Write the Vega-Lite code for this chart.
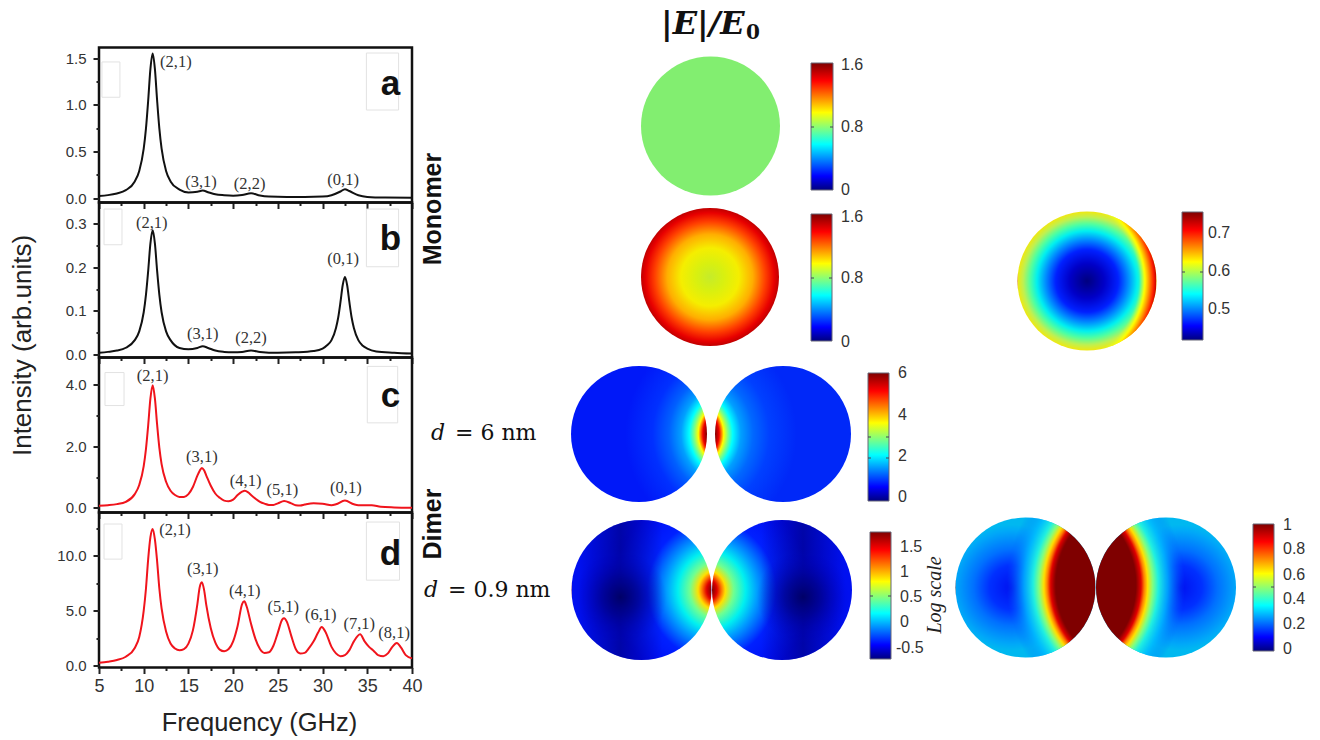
{
  "$schema": "https://vega.github.io/schema/vega-lite/v6.json",
  "background": "white",
  "padding": {"left": 8, "top": 7.5, "right": 0, "bottom": 5},
  "bounds": "flush",
  "spacing": 313,
  "config": {
    "axis": {"grid": false, "domain": false, "tickColor": "#222", "tickWidth": 2, "labelColor": "#333", "labelFont": "Liberation Sans", "labelFontSize": 15, "titleFont": "Liberation Sans", "titleFontWeight": "normal", "titleColor": "#222", "labelOverlap": false, "labelFlush": false},
    "text": {"font": "Liberation Sans"}
  },
  "hconcat": [
    {
      "vconcat": [
        {
          "width": 313, "height": 155,
          "view": {"stroke": "#111", "strokeWidth": 2.5},
          "encoding": {
            "x": {"field": "f", "type": "quantitative", "scale": {"domain": [5, 40], "nice": false},
              "axis": {"values": [5, 7.5, 10, 12.5, 15, 17.5, 20, 22.5, 25, 27.5, 30, 32.5, 35, 37.5, 40], "labels": false, "title": null, "tickSize": {"condition": {"test": "datum.value % 5 == 0", "value": 6}, "value": 3}}},
            "y": {"field": "i", "type": "quantitative", "scale": {"domain": [-0.048, 1.613], "nice": false},
              "axis": {"values": [0, 0.25, 0.5, 0.75, 1, 1.25, 1.5], "title": null, "labelPadding": 7, "labelExpr": "datum.value * 2 % 1 == 0 ? format(datum.value, '.1f') : ''", "tickSize": {"condition": {"test": "datum.value * 2 % 1 == 0", "value": 6}, "value": 3}}}
          },
          "layer": [
            {
              "data": {"values": [{"f": 5.33, "f2": 7.34, "i": 1.458, "i2": 1.08}, {"f": 34.9, "f2": 38.5, "i": 1.554, "i2": 0.943}]},
              "mark": {"type": "rect", "fill": null, "stroke": "#e2e2e2", "strokeWidth": 1},
              "encoding": {"x2": {"field": "f2"}, "y2": {"field": "i2"}}
            },
            {
              "data": {"values": [{"f":5,"i":0.022},{"f":6,"i":0.031},{"f":7,"i":0.049},{"f":8,"i":0.084},{"f":9,"i":0.178},{"f":9.5,"i":0.29},{"f":10,"i":0.529},{"f":10.25,"i":0.743},{"f":10.5,"i":1.045},{"f":10.75,"i":1.384},{"f":11,"i":1.55},{"f":11.25,"i":1.384},{"f":11.5,"i":1.045},{"f":11.75,"i":0.743},{"f":12,"i":0.529},{"f":12.5,"i":0.29},{"f":13,"i":0.178},{"f":14,"i":0.09},{"f":15,"i":0.06},{"f":16,"i":0.068},{"f":16.6,"i":0.08},{"f":17.2,"i":0.062},{"f":18,"i":0.04},{"f":19,"i":0.03},{"f":20,"i":0.025},{"f":21,"i":0.032},{"f":22,"i":0.05},{"f":23,"i":0.026},{"f":24,"i":0.015},{"f":26,"i":0.01},{"f":28,"i":0.01},{"f":30,"i":0.015},{"f":31,"i":0.03},{"f":32,"i":0.07},{"f":32.5,"i":0.095},{"f":33,"i":0.075},{"f":34,"i":0.03},{"f":35,"i":0.012},{"f":37,"i":0.005},{"f":40,"i":0.003}]},
              "mark": {"type": "line", "color": "#111", "strokeWidth": 2, "interpolate": "monotone"}
            },
            {
              "data": {"values": [{"f":13.6,"i":1.457,"t":"(2,1)"},{"f":16.4,"i":0.171,"t":"(3,1)"},{"f":21.85,"i":0.15,"t":"(2,2)"},{"f":32.3,"i":0.193,"t":"(0,1)"}]},
              "mark": {"type": "text", "font": "Liberation Serif", "fontSize": 16.5, "color": "#333"},
              "encoding": {"text": {"field": "t"}}
            },
            {
              "data": {"values": [{"f":37.6,"i":1.104,"t":"a"}]},
              "mark": {"type": "text", "fontSize": 35, "fontWeight": "bold", "baseline": "alphabetic", "color": "#111"},
              "encoding": {"text": {"field": "t"}}
            }
          ]
        },
        {
          "width": 313, "height": 155,
          "view": {"stroke": "#111", "strokeWidth": 2.5},
          "encoding": {
            "x": {"field": "f", "type": "quantitative", "scale": {"domain": [5, 40], "nice": false},
              "axis": {"values": [5, 7.5, 10, 12.5, 15, 17.5, 20, 22.5, 25, 27.5, 30, 32.5, 35, 37.5, 40], "labels": false, "title": null, "tickSize": {"condition": {"test": "datum.value % 5 == 0", "value": 6}, "value": 3}}},
            "y": {"field": "i", "type": "quantitative", "scale": {"domain": [-0.0069, 0.349], "nice": false},
              "axis": {"values": [0, 0.05, 0.1, 0.15, 0.2, 0.25, 0.3], "title": "Intensity (arb.units)", "titleFontSize": 26, "titleX": -63.5, "titleY": 142.5, "labelPadding": 7, "labelExpr": "round(datum.value * 100) % 10 == 0 ? format(datum.value, '.1f') : ''", "tickSize": {"condition": {"test": "round(datum.value * 100) % 10 == 0", "value": 6}, "value": 3}}}
          },
          "layer": [
            {
              "data": {"values": [{"f": 5.56, "f2": 7.57, "i": 0.334, "i2": 0.252}, {"f": 34.9, "f2": 38.5, "i": 0.334, "i2": 0.2015}]},
              "mark": {"type": "rect", "fill": null, "stroke": "#e2e2e2", "strokeWidth": 1},
              "encoding": {"x2": {"field": "f2"}, "y2": {"field": "i2"}}
            },
            {
              "data": {"values": [{"f":5,"i":0.004},{"f":6,"i":0.006},{"f":7,"i":0.009},{"f":8,"i":0.0155},{"f":9,"i":0.033},{"f":9.5,"i":0.053},{"f":10,"i":0.097},{"f":10.25,"i":0.137},{"f":10.5,"i":0.192},{"f":10.75,"i":0.255},{"f":11,"i":0.285},{"f":11.25,"i":0.255},{"f":11.5,"i":0.192},{"f":11.75,"i":0.137},{"f":12,"i":0.097},{"f":12.5,"i":0.053},{"f":13,"i":0.033},{"f":14,"i":0.015},{"f":15,"i":0.012},{"f":16,"i":0.015},{"f":16.6,"i":0.019},{"f":17.2,"i":0.015},{"f":18,"i":0.009},{"f":19,"i":0.006},{"f":20,"i":0.005},{"f":21,"i":0.006},{"f":22,"i":0.009},{"f":23,"i":0.006},{"f":25,"i":0.004},{"f":27,"i":0.005},{"f":29,"i":0.008},{"f":30,"i":0.0135},{"f":30.5,"i":0.021},{"f":31,"i":0.033},{"f":31.5,"i":0.061},{"f":31.75,"i":0.085},{"f":32,"i":0.12},{"f":32.25,"i":0.159},{"f":32.5,"i":0.178},{"f":32.75,"i":0.159},{"f":33,"i":0.12},{"f":33.25,"i":0.085},{"f":33.5,"i":0.061},{"f":34,"i":0.033},{"f":34.5,"i":0.02},{"f":35,"i":0.0135},{"f":36,"i":0.007},{"f":38,"i":0.004},{"f":40,"i":0.002}]},
              "mark": {"type": "line", "color": "#111", "strokeWidth": 2, "interpolate": "monotone"}
            },
            {
              "data": {"values": [{"f":10.9,"i":0.302,"t":"(2,1)"},{"f":16.6,"i":0.048,"t":"(3,1)"},{"f":22,"i":0.039,"t":"(2,2)"},{"f":32.3,"i":0.22,"t":"(0,1)"}]},
              "mark": {"type": "text", "font": "Liberation Serif", "fontSize": 16.5, "color": "#333"},
              "encoding": {"text": {"field": "t"}}
            },
            {
              "data": {"values": [{"f":37.6,"i":0.24,"t":"b"}]},
              "mark": {"type": "text", "fontSize": 35, "fontWeight": "bold", "baseline": "alphabetic", "color": "#111"},
              "encoding": {"text": {"field": "t"}}
            }
          ]
        },
        {
          "width": 313, "height": 155,
          "view": {"stroke": "#111", "strokeWidth": 2.5},
          "encoding": {
            "x": {"field": "f", "type": "quantitative", "scale": {"domain": [5, 40], "nice": false},
              "axis": {"values": [5, 7.5, 10, 12.5, 15, 17.5, 20, 22.5, 25, 27.5, 30, 32.5, 35, 37.5, 40], "labels": false, "title": null, "tickSize": {"condition": {"test": "datum.value % 5 == 0", "value": 6}, "value": 3}}},
            "y": {"field": "i", "type": "quantitative", "scale": {"domain": [-0.146, 4.878], "nice": false},
              "axis": {"values": [0, 1, 2, 3, 4], "title": null, "labelPadding": 7, "labelExpr": "datum.value % 2 == 0 ? format(datum.value, '.1f') : ''", "tickSize": {"condition": {"test": "datum.value % 2 == 0", "value": 6}, "value": 3}}}
          },
          "layer": [
            {
              "data": {"values": [{"f": 5.67, "f2": 7.8, "i": 4.39, "i2": 3.32}, {"f": 35, "f2": 38.4, "i": 4.59, "i2": 2.76}]},
              "mark": {"type": "rect", "fill": null, "stroke": "#e2e2e2", "strokeWidth": 1},
              "encoding": {"x2": {"field": "f2"}, "y2": {"field": "i2"}}
            },
            {
              "data": {"values": [{"f":5,"i":0.07},{"f":6,"i":0.09},{"f":7,"i":0.125},{"f":8,"i":0.2},{"f":9,"i":0.45},{"f":9.5,"i":0.745},{"f":10,"i":1.36},{"f":10.25,"i":1.91},{"f":10.5,"i":2.68},{"f":10.75,"i":3.55},{"f":11,"i":3.98},{"f":11.25,"i":3.55},{"f":11.5,"i":2.7},{"f":11.75,"i":1.95},{"f":12,"i":1.42},{"f":12.5,"i":0.85},{"f":13,"i":0.56},{"f":13.5,"i":0.42},{"f":14,"i":0.36},{"f":14.5,"i":0.36},{"f":15,"i":0.45},{"f":15.5,"i":0.68},{"f":16,"i":1.05},{"f":16.25,"i":1.2},{"f":16.5,"i":1.3},{"f":16.75,"i":1.22},{"f":17,"i":1.05},{"f":17.5,"i":0.72},{"f":18,"i":0.47},{"f":18.5,"i":0.33},{"f":19,"i":0.24},{"f":19.5,"i":0.22},{"f":20,"i":0.27},{"f":20.5,"i":0.42},{"f":21,"i":0.53},{"f":21.3,"i":0.56},{"f":21.7,"i":0.5},{"f":22,"i":0.42},{"f":22.5,"i":0.3},{"f":23,"i":0.2},{"f":23.5,"i":0.14},{"f":24,"i":0.1},{"f":24.5,"i":0.1},{"f":25,"i":0.15},{"f":25.7,"i":0.23},{"f":26.5,"i":0.15},{"f":27,"i":0.09},{"f":27.5,"i":0.08},{"f":28,"i":0.11},{"f":29,"i":0.15},{"f":30,"i":0.14},{"f":31,"i":0.09},{"f":31.5,"i":0.12},{"f":32.5,"i":0.24},{"f":33.5,"i":0.12},{"f":34,"i":0.09},{"f":35,"i":0.09},{"f":35.5,"i":0.09},{"f":36.5,"i":0.04},{"f":38,"i":0.02},{"f":40,"i":0.01}]},
              "mark": {"type": "line", "color": "#f0141c", "strokeWidth": 2, "interpolate": "monotone"}
            },
            {
              "data": {"values": [{"f":11,"i":4.29,"t":"(2,1)"},{"f":16.5,"i":1.66,"t":"(3,1)"},{"f":21.4,"i":0.88,"t":"(4,1)"},{"f":25.5,"i":0.59,"t":"(5,1)"},{"f":32.6,"i":0.65,"t":"(0,1)"}]},
              "mark": {"type": "text", "font": "Liberation Serif", "fontSize": 16.5, "color": "#333"},
              "encoding": {"text": {"field": "t"}}
            },
            {
              "data": {"values": [{"f":37.6,"i":3.28,"t":"c"}]},
              "mark": {"type": "text", "fontSize": 35, "fontWeight": "bold", "baseline": "alphabetic", "color": "#111"},
              "encoding": {"text": {"field": "t"}}
            }
          ]
        },
        {
          "width": 313, "height": 155,
          "view": {"stroke": "#111", "strokeWidth": 2.5},
          "encoding": {
            "x": {"field": "f", "type": "quantitative", "scale": {"domain": [5, 40], "nice": false},
              "axis": {"values": [5, 7.5, 10, 12.5, 15, 17.5, 20, 22.5, 25, 27.5, 30, 32.5, 35, 37.5, 40], "title": "Frequency (GHz)", "titleFontSize": 25.5, "titlePadding": 15, "titleX": 160, "labelFontSize": 18, "labelPadding": 4, "labelExpr": "datum.value % 5 == 0 ? datum.value : ''", "tickSize": {"condition": {"test": "datum.value % 5 == 0", "value": 6}, "value": 3}}},
            "y": {"field": "i", "type": "quantitative", "scale": {"domain": [-0.183, 13.95], "nice": false},
              "axis": {"values": [0, 2.5, 5, 7.5, 10, 12.5], "title": null, "labelPadding": 7, "labelExpr": "datum.value % 5 == 0 ? format(datum.value, '.1f') : ''", "tickSize": {"condition": {"test": "datum.value % 5 == 0", "value": 6}, "value": 3}}}
          },
          "layer": [
            {
              "data": {"values": [{"f": 5.56, "f2": 7.57, "i": 12.9, "i2": 9.7}, {"f": 34.9, "f2": 38.6, "i": 13.08, "i2": 7.78}]},
              "mark": {"type": "rect", "fill": null, "stroke": "#e2e2e2", "strokeWidth": 1},
              "encoding": {"x2": {"field": "f2"}, "y2": {"field": "i2"}}
            },
            {
              "data": {"values": [{"f":5,"i":0.25},{"f":6,"i":0.35},{"f":7,"i":0.5},{"f":8,"i":0.8},{"f":9,"i":1.6},{"f":9.5,"i":2.6},{"f":10,"i":5},{"f":10.25,"i":7},{"f":10.5,"i":9.7},{"f":10.75,"i":11.7},{"f":11,"i":12.45},{"f":11.25,"i":11.5},{"f":11.5,"i":9.5},{"f":11.75,"i":7},{"f":12,"i":5.2},{"f":12.5,"i":3.1},{"f":13,"i":2},{"f":13.5,"i":1.55},{"f":14,"i":1.4},{"f":14.5,"i":1.5},{"f":15,"i":2},{"f":15.5,"i":3.2},{"f":16,"i":5.6},{"f":16.25,"i":7.1},{"f":16.5,"i":7.6},{"f":16.75,"i":6.9},{"f":17,"i":5.5},{"f":17.5,"i":3.4},{"f":18,"i":2.1},{"f":18.5,"i":1.45},{"f":19,"i":1.3},{"f":19.5,"i":1.5},{"f":20,"i":2.2},{"f":20.5,"i":3.6},{"f":21,"i":5.6},{"f":21.25,"i":5.85},{"f":21.5,"i":5.4},{"f":22,"i":3.8},{"f":22.5,"i":2.4},{"f":23,"i":1.5},{"f":23.5,"i":1.15},{"f":24,"i":1.2},{"f":24.5,"i":1.8},{"f":25,"i":3},{"f":25.5,"i":4.2},{"f":25.7,"i":4.3},{"f":26,"i":4},{"f":26.5,"i":2.7},{"f":27,"i":1.5},{"f":27.5,"i":1.1},{"f":28,"i":1.15},{"f":28.5,"i":1.6},{"f":29,"i":2.2},{"f":29.5,"i":3},{"f":29.9,"i":3.5},{"f":30.3,"i":3.1},{"f":31,"i":1.7},{"f":31.5,"i":1.1},{"f":32,"i":0.85},{"f":32.5,"i":0.95},{"f":33,"i":1.4},{"f":33.5,"i":2.2},{"f":34.2,"i":2.85},{"f":34.7,"i":2.2},{"f":35.2,"i":1.7},{"f":35.7,"i":1.35},{"f":36.2,"i":0.95},{"f":36.8,"i":0.85},{"f":37.3,"i":1.1},{"f":37.8,"i":1.7},{"f":38.3,"i":2.05},{"f":38.8,"i":1.6},{"f":39.3,"i":0.95},{"f":40,"i":0.65}]},
              "mark": {"type": "line", "color": "#f0141c", "strokeWidth": 2, "interpolate": "monotone"}
            },
            {
              "data": {"values": [{"f":13.5,"i":12.35,"t":"(2,1)"},{"f":16.6,"i":8.78,"t":"(3,1)"},{"f":21.3,"i":6.77,"t":"(4,1)"},{"f":25.6,"i":5.3,"t":"(5,1)"},{"f":29.8,"i":4.57,"t":"(6,1)"},{"f":34.1,"i":3.75,"t":"(7,1)"},{"f":38,"i":2.93,"t":"(8,1)"}]},
              "mark": {"type": "text", "font": "Liberation Serif", "fontSize": 16.5, "color": "#333"},
              "encoding": {"text": {"field": "t"}}
            },
            {
              "data": {"values": [{"f":37.6,"i":9.15,"t":"d"}]},
              "mark": {"type": "text", "fontSize": 35, "fontWeight": "bold", "baseline": "alphabetic", "color": "#111"},
              "encoding": {"text": {"field": "t"}}
            }
          ]
        }
      ],
      "spacing": 0,
      "bounds": "flush"
    },
    {
      "width": 908, "height": 620,
      "view": {"stroke": null},
      "encoding": {
        "x": {"field": "x", "type": "quantitative", "scale": {"domain": [412, 1320], "nice": false}, "axis": null},
        "y": {"field": "y", "type": "quantitative", "scale": {"domain": [667.5, 47.5], "nice": false, "zero": false}, "axis": null}
      },
      "layer": [
        {
          "data": {"values": [{"x": 710.5, "y": 126, "field": "monomer uniform"}]},
          "mark": {"type": "circle", "size": 19321, "opacity": 1, "fill": "#82ee70"}
        },
        {
          "data": {"values": [{"x": 710, "y": 277, "field": "monomer"}]},
          "mark": {"type": "circle", "size": 19044, "opacity": 1, "fill": {"gradient": "radial", "x1": 0.5, "y1": 0.5, "r1": 0, "x2": 0.5, "y2": 0.5, "r2": 0.5, "stops": [{"offset": 0, "color": "#c5ec2a"}, {"offset": 0.2, "color": "#d8f010"}, {"offset": 0.42, "color": "#f5ee00"}, {"offset": 0.62, "color": "#ffae00"}, {"offset": 0.8, "color": "#ff4000"}, {"offset": 0.93, "color": "#e80000"}, {"offset": 1, "color": "#c00000"}]}}
        },
        {
          "data": {"values": [{"x": 1087, "y": 281, "field": "monomer scaled"}]},
          "mark": {"type": "circle", "size": 19321, "opacity": 1, "fill": {"gradient": "radial", "x1": 0.5, "y1": 0.5, "r1": 0, "x2": 0.5, "y2": 0.5, "r2": 0.5, "stops": [{"offset": 0, "color": "#00007f"}, {"offset": 0.25, "color": "#0000c8"}, {"offset": 0.45, "color": "#0020ff"}, {"offset": 0.6, "color": "#0090ff"}, {"offset": 0.72, "color": "#00f0f0"}, {"offset": 0.82, "color": "#50ffa0"}, {"offset": 0.92, "color": "#c0f050"}, {"offset": 1, "color": "#f0e810"}]}}
        },
        {
          "data": {"values": [{"x": 1087, "y": 281, "field": "monomer scaled crescent"}]},
          "mark": {"type": "circle", "size": 19321, "opacity": 1, "fill": {"gradient": "radial", "x1": 0.3, "y1": 0.5, "r1": 0, "x2": 0.3, "y2": 0.5, "r2": 0.7, "stops": [{"offset": 0.82, "color": "rgba(200,255,60,0)"}, {"offset": 0.88, "color": "#ffff00"}, {"offset": 0.92, "color": "#ffa000"}, {"offset": 0.97, "color": "#ff2000"}, {"offset": 1, "color": "#c00000"}]}}
        },
        {
          "data": {"values": [{"x": 639, "y": 434, "field": "dimer 6 nm left"}]},
          "mark": {"type": "circle", "size": 18496, "opacity": 1, "fill": {"gradient": "radial", "x1": 1.2, "y1": 0.5, "r1": 0, "x2": 1.2, "y2": 0.5, "r2": 0.8, "stops": [{"offset": 0.25, "color": "#800000"}, {"offset": 0.2875, "color": "#f00000"}, {"offset": 0.31, "color": "#ff8000"}, {"offset": 0.33, "color": "#ffff00"}, {"offset": 0.3675, "color": "#80ff80"}, {"offset": 0.4125, "color": "#00ffff"}, {"offset": 0.4875, "color": "#00a0ff"}, {"offset": 0.6, "color": "#0060ff"}, {"offset": 0.75, "color": "#0030ff"}, {"offset": 1, "color": "#0018f8"}]}}
        },
        {
          "data": {"values": [{"x": 783, "y": 434, "field": "dimer 6 nm right"}]},
          "mark": {"type": "circle", "size": 18496, "opacity": 1, "fill": {"gradient": "radial", "x1": -0.2, "y1": 0.5, "r1": 0, "x2": -0.2, "y2": 0.5, "r2": 0.8, "stops": [{"offset": 0.25, "color": "#800000"}, {"offset": 0.2875, "color": "#f00000"}, {"offset": 0.31, "color": "#ff8000"}, {"offset": 0.33, "color": "#ffff00"}, {"offset": 0.3675, "color": "#80ff80"}, {"offset": 0.4125, "color": "#00ffff"}, {"offset": 0.4875, "color": "#00a0ff"}, {"offset": 0.6, "color": "#0068ff"}, {"offset": 0.75, "color": "#0040ff"}, {"offset": 1, "color": "#0028f8"}]}}
        },
        {
          "data": {"values": [{"x": 641.5, "y": 590, "field": "dimer 0.9 nm left"}]},
          "mark": {"type": "circle", "size": 19600, "opacity": 1, "fill": {"gradient": "radial", "x1": 1.05, "y1": 0.5, "r1": 0, "x2": 1.05, "y2": 0.5, "r2": 1, "stops": [{"offset": 0.05, "color": "#800000"}, {"offset": 0.086, "color": "#e00000"}, {"offset": 0.12, "color": "#ff8000"}, {"offset": 0.145, "color": "#ffe000"}, {"offset": 0.205, "color": "#70ff90"}, {"offset": 0.29, "color": "#00f0f0"}, {"offset": 0.37, "color": "#00a0ff"}, {"offset": 0.51, "color": "#0020ff"}, {"offset": 0.75, "color": "#0008f0"}, {"offset": 1, "color": "#0010f0"}]}}
        },
        {
          "data": {"values": [{"x": 641.5, "y": 590, "field": "dimer 0.9 nm left band"}]},
          "mark": {"type": "circle", "size": 19600, "opacity": 1, "fill": {"gradient": "linear", "x1": 0.05, "y1": 0.5, "x2": 0.65, "y2": 0.5, "stops": [{"offset": 0, "color": "rgba(0,0,110,0)"}, {"offset": 0.5, "color": "rgba(0,0,110,0.55)"}, {"offset": 1, "color": "rgba(0,0,110,0)"}]}}
        },
        {
          "data": {"values": [{"x": 641.5, "y": 590, "field": "dimer 0.9 nm left core"}]},
          "mark": {"type": "circle", "size": 19600, "opacity": 1, "fill": {"gradient": "radial", "x1": 0.35, "y1": 0.55, "r1": 0, "x2": 0.35, "y2": 0.55, "r2": 0.33, "stops": [{"offset": 0, "color": "rgba(0,0,100,0.95)"}, {"offset": 0.4, "color": "rgba(0,0,130,0.6)"}, {"offset": 1, "color": "rgba(0,0,200,0)"}]}}
        },
        {
          "data": {"values": [{"x": 782, "y": 590, "field": "dimer 0.9 nm right"}]},
          "mark": {"type": "circle", "size": 19600, "opacity": 1, "fill": {"gradient": "radial", "x1": -0.05, "y1": 0.5, "r1": 0, "x2": -0.05, "y2": 0.5, "r2": 1, "stops": [{"offset": 0.05, "color": "#800000"}, {"offset": 0.086, "color": "#e00000"}, {"offset": 0.12, "color": "#ff8000"}, {"offset": 0.145, "color": "#ffe000"}, {"offset": 0.205, "color": "#70ff90"}, {"offset": 0.29, "color": "#00f0f0"}, {"offset": 0.37, "color": "#00a0ff"}, {"offset": 0.51, "color": "#0020ff"}, {"offset": 0.75, "color": "#0008f0"}, {"offset": 1, "color": "#0010f0"}]}}
        },
        {
          "data": {"values": [{"x": 782, "y": 590, "field": "dimer 0.9 nm right band"}]},
          "mark": {"type": "circle", "size": 19600, "opacity": 1, "fill": {"gradient": "linear", "x1": 0.95, "y1": 0.5, "x2": 0.35, "y2": 0.5, "stops": [{"offset": 0, "color": "rgba(0,0,110,0)"}, {"offset": 0.5, "color": "rgba(0,0,110,0.55)"}, {"offset": 1, "color": "rgba(0,0,110,0)"}]}}
        },
        {
          "data": {"values": [{"x": 782, "y": 590, "field": "dimer 0.9 nm right core"}]},
          "mark": {"type": "circle", "size": 19600, "opacity": 1, "fill": {"gradient": "radial", "x1": 0.65, "y1": 0.55, "r1": 0, "x2": 0.65, "y2": 0.55, "r2": 0.33, "stops": [{"offset": 0, "color": "rgba(0,0,100,0.95)"}, {"offset": 0.4, "color": "rgba(0,0,130,0.6)"}, {"offset": 1, "color": "rgba(0,0,200,0)"}]}}
        },
        {
          "data": {"values": [{"x": 1025.5, "y": 587.5, "field": "dimer saturated left"}]},
          "mark": {"type": "circle", "size": 19600, "opacity": 1, "fill": {"gradient": "radial", "x1": 0.4, "y1": 0.5, "r1": 0, "x2": 0.4, "y2": 0.5, "r2": 0.45, "stops": [{"offset": 0, "color": "#0010f0"}, {"offset": 0.35, "color": "#0030ff"}, {"offset": 0.6, "color": "#0070ff"}, {"offset": 0.9, "color": "#00a8f8"}, {"offset": 1, "color": "#00b8f0"}]}}
        },
        {
          "data": {"values": [{"x": 1025.5, "y": 587.5, "field": "dimer saturated left hot"}]},
          "mark": {"type": "circle", "size": 19600, "opacity": 1, "fill": {"gradient": "radial", "x1": 1.345, "y1": 0.48, "r1": 0, "x2": 1.345, "y2": 0.48, "r2": 1.4, "stops": [{"offset": 0.45, "color": "#7f0000"}, {"offset": 0.476, "color": "#e00000"}, {"offset": 0.493, "color": "#ff8000"}, {"offset": 0.51, "color": "#ffe000"}, {"offset": 0.536, "color": "#80ff80"}, {"offset": 0.564, "color": "#20f0e0"}, {"offset": 0.612, "color": "rgba(0,190,255,0.8)"}, {"offset": 0.7, "color": "rgba(0,100,255,0)"}]}}
        },
        {
          "data": {"values": [{"x": 1166, "y": 587.5, "field": "dimer saturated right"}]},
          "mark": {"type": "circle", "size": 19600, "opacity": 1, "fill": {"gradient": "radial", "x1": 0.6, "y1": 0.5, "r1": 0, "x2": 0.6, "y2": 0.5, "r2": 0.45, "stops": [{"offset": 0, "color": "#0010f0"}, {"offset": 0.35, "color": "#0030ff"}, {"offset": 0.6, "color": "#0070ff"}, {"offset": 0.9, "color": "#00a8f8"}, {"offset": 1, "color": "#00b8f0"}]}}
        },
        {
          "data": {"values": [{"x": 1166, "y": 587.5, "field": "dimer saturated right hot"}]},
          "mark": {"type": "circle", "size": 19600, "opacity": 1, "fill": {"gradient": "radial", "x1": -0.345, "y1": 0.48, "r1": 0, "x2": -0.345, "y2": 0.48, "r2": 1.4, "stops": [{"offset": 0.45, "color": "#7f0000"}, {"offset": 0.476, "color": "#e00000"}, {"offset": 0.493, "color": "#ff8000"}, {"offset": 0.51, "color": "#ffe000"}, {"offset": 0.536, "color": "#80ff80"}, {"offset": 0.564, "color": "#20f0e0"}, {"offset": 0.612, "color": "rgba(0,190,255,0.8)"}, {"offset": 0.7, "color": "rgba(0,100,255,0)"}]}}
        },
        {
          "data": {"values": [{"x": 811, "x2": 833, "y": 190, "y2": 63}, {"x": 811, "x2": 832, "y": 341, "y2": 214}, {"x": 1182, "x2": 1203, "y": 340, "y2": 212}, {"x": 868, "x2": 889, "y": 501, "y2": 373}, {"x": 870, "x2": 891, "y": 659, "y2": 532}, {"x": 1253, "x2": 1274, "y": 651, "y2": 524}]},
          "mark": {"type": "rect", "stroke": "#667", "strokeWidth": 1, "fill": {"gradient": "linear", "x1": 0, "y1": 1, "x2": 0, "y2": 0, "stops": [{"offset": 0, "color": "#00007f"}, {"offset": 0.11, "color": "#0000ff"}, {"offset": 0.36, "color": "#00ffff"}, {"offset": 0.61, "color": "#ffff00"}, {"offset": 0.86, "color": "#ff0000"}, {"offset": 1, "color": "#7f0000"}]}},
          "encoding": {"x2": {"field": "x2"}, "y2": {"field": "y2"}}
        },
        {
          "data": {"values": [{"x":811,"x2":814,"y":127},{"x":830,"x2":833,"y":127},{"x":811,"x2":814,"y":278},{"x":829,"x2":832,"y":278},{"x":1182,"x2":1185,"y":272},{"x":1200,"x2":1203,"y":272},{"x":868,"x2":871,"y":437},{"x":886,"x2":889,"y":437},{"x":868,"x2":871,"y":458},{"x":886,"x2":889,"y":458},{"x":870,"x2":873,"y":596},{"x":888,"x2":891,"y":596},{"x":1253,"x2":1256,"y":587},{"x":1271,"x2":1274,"y":587}]},
          "mark": {"type": "rule", "color": "#445", "strokeWidth": 1},
          "encoding": {"x2": {"field": "x2"}}
        },
        {
          "data": {"values": [{"x":841,"y":65,"t":"1.6"},{"x":841,"y":127,"t":"0.8"},{"x":841,"y":190,"t":"0"},{"x":841,"y":217,"t":"1.6"},{"x":841,"y":278,"t":"0.8"},{"x":841,"y":342,"t":"0"},{"x":1208,"y":233,"t":"0.7"},{"x":1208,"y":271,"t":"0.6"},{"x":1208,"y":309,"t":"0.5"},{"x":898,"y":373,"t":"6"},{"x":898,"y":415,"t":"4"},{"x":898,"y":456,"t":"2"},{"x":898,"y":497,"t":"0"},{"x":900,"y":547,"t":"1.5"},{"x":900,"y":572,"t":"1"},{"x":900,"y":597,"t":"0.5"},{"x":900,"y":622,"t":"0"},{"x":896,"y":648,"t":"-0.5"},{"x":1283,"y":525,"t":"1"},{"x":1283,"y":549,"t":"0.8"},{"x":1283,"y":575,"t":"0.6"},{"x":1283,"y":599,"t":"0.4"},{"x":1283,"y":624,"t":"0.2"},{"x":1283,"y":649,"t":"0"}]},
          "mark": {"type": "text", "align": "left", "fontSize": 16, "color": "#333"},
          "encoding": {"text": {"field": "t"}}
        },
        {
          "data": {"values": [{"x":661,"y":34,"t":"|E|/E"}]},
          "mark": {"type": "text", "font": "DejaVu Serif", "fontSize": 32, "fontWeight": "bold", "fontStyle": "italic", "align": "left", "baseline": "alphabetic", "color": "#111"},
          "encoding": {"text": {"field": "t"}}
        },
        {
          "data": {"values": [{"x":746,"y":39,"t":"0"}]},
          "mark": {"type": "text", "font": "DejaVu Serif", "fontSize": 20, "fontWeight": "bold", "align": "left", "baseline": "alphabetic", "color": "#111"},
          "encoding": {"text": {"field": "t"}}
        },
        {
          "data": {"values": [{"x":433,"y":209,"t":"Monomer"},{"x":433,"y":524,"t":"Dimer"}]},
          "mark": {"type": "text", "fontSize": 25, "fontWeight": "bold", "angle": 270, "color": "#111"},
          "encoding": {"text": {"field": "t"}}
        },
        {
          "data": {"values": [{"x":431,"y":440,"t":"d"},{"x":424,"y":597,"t":"d"}]},
          "mark": {"type": "text", "font": "DejaVu Serif", "fontSize": 22, "fontStyle": "italic", "align": "left", "baseline": "alphabetic", "color": "#111"},
          "encoding": {"text": {"field": "t"}}
        },
        {
          "data": {"values": [{"x":455,"y":440,"t":"= 6 nm"},{"x":448,"y":597,"t":"= 0.9 nm"}]},
          "mark": {"type": "text", "font": "DejaVu Serif", "fontSize": 22, "align": "left", "baseline": "alphabetic", "color": "#111"},
          "encoding": {"text": {"field": "t"}}
        },
        {
          "data": {"values": [{"x":935,"y":595,"t":"Log scale"}]},
          "mark": {"type": "text", "font": "Liberation Serif", "fontSize": 20, "fontStyle": "italic", "angle": 270, "color": "#222"},
          "encoding": {"text": {"field": "t"}}
        }
      ]
    }
  ]
}
